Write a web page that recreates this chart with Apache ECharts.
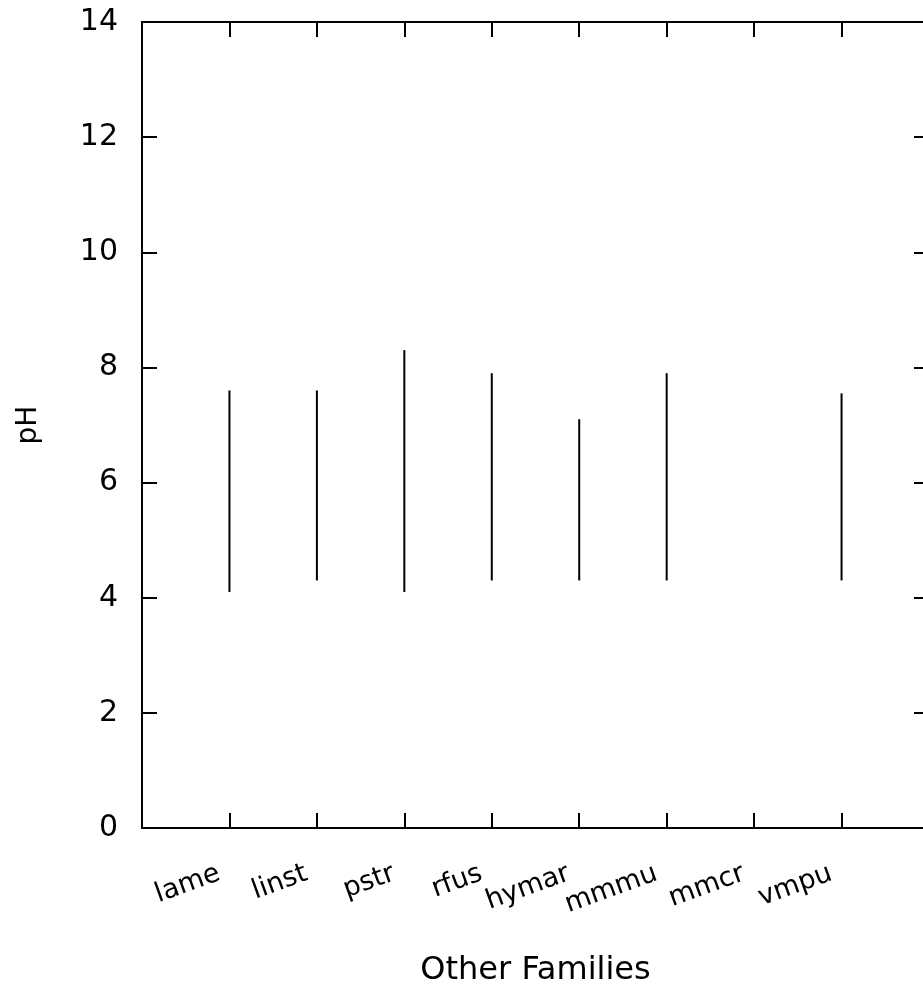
<!DOCTYPE html>
<html>
<head>
<meta charset="utf-8">
<script src="https://cdn.jsdelivr.net/npm/echarts@6/dist/echarts.min.js"></script>
<style>
html,body{margin:0;padding:0;background:#fff;}
#chart{width:923px;height:989px;}
</style>
</head>
<body>
<div id="chart"></div>
<script>
const categories = ['lame', 'linst', 'pstr', 'rfus', 'hymar', 'mmmu', 'mmcr', 'vmpu'];
const lowValues  = [4.1, 4.3, 4.1, 4.3, 4.3, 4.3, null, 4.3];
const highValues = [7.6, 7.6, 8.3, 7.9, 7.1, 7.9, null, 7.55];
const yTicks = [0, 2, 4, 6, 8, 10, 12, 14];

const FONT = 'DejaVu Sans';
const data = categories.map((c, i) => [i + 1, lowValues[i], highValues[i]])
  .filter(d => d[1] != null && d[2] != null);

const chart = echarts.init(document.getElementById('chart'));
const axisLine = {show: true, onZero: false, lineStyle: {color: '#000', width: 2}};
const tickIn = {show: true, inside: true, length: 15, lineStyle: {color: '#000', width: 2}};

chart.setOption({
  backgroundColor: '#fff',
  animation: false,
  grid: {left: 142, top: 22, width: 787, height: 806, outerBoundsMode: 'none', containLabel: false},
  xAxis: [{
    type: 'value', min: 0, max: categories.length + 1, interval: 1,
    position: 'bottom',
    axisLine: axisLine, axisTick: tickIn, splitLine: {show: false},
    axisLabel: {
      rotate: 20, margin: 41, fontFamily: FONT, fontSize: 27, color: '#000',
      padding: [0, 11, 0, 0],
      formatter: v => (v >= 1 && v <= categories.length) ? categories[v - 1] : ''
    },
    name: 'Other Families', nameLocation: 'middle', nameGap: 127,
    nameTextStyle: {fontFamily: FONT, fontSize: 32, color: '#000'}
  }, {
    type: 'value', min: 0, max: categories.length + 1, interval: 1,
    position: 'top',
    axisLine: axisLine, axisTick: tickIn, splitLine: {show: false},
    axisLabel: {show: false}
  }],
  yAxis: [{
    type: 'value', min: yTicks[0], max: yTicks[yTicks.length - 1], interval: 2,
    position: 'left',
    axisLine: axisLine, axisTick: tickIn, splitLine: {show: false},
    axisLabel: {margin: 24, fontFamily: FONT, fontSize: 30, color: '#000'},
    name: 'pH', nameLocation: 'middle', nameGap: 99, nameRotate: 90,
    nameTextStyle: {fontFamily: FONT, fontSize: 28, color: '#000'}
  }, {
    type: 'value', min: yTicks[0], max: yTicks[yTicks.length - 1], interval: 2,
    position: 'right',
    axisLine: axisLine, axisTick: tickIn, splitLine: {show: false},
    axisLabel: {show: false}
  }],
  series: [{
    type: 'custom',
    xAxisIndex: 0, yAxisIndex: 0,
    data: data,
    renderItem: function (params, api) {
      const p1 = api.coord([api.value(0), api.value(1)]);
      const p2 = api.coord([api.value(0), api.value(2)]);
      return {
        type: 'line',
        shape: {x1: p1[0], y1: p1[1], x2: p2[0], y2: p2[1]},
        style: {stroke: '#000', lineWidth: 2}
      };
    }
  }]
});
</script>
</body>
</html>
